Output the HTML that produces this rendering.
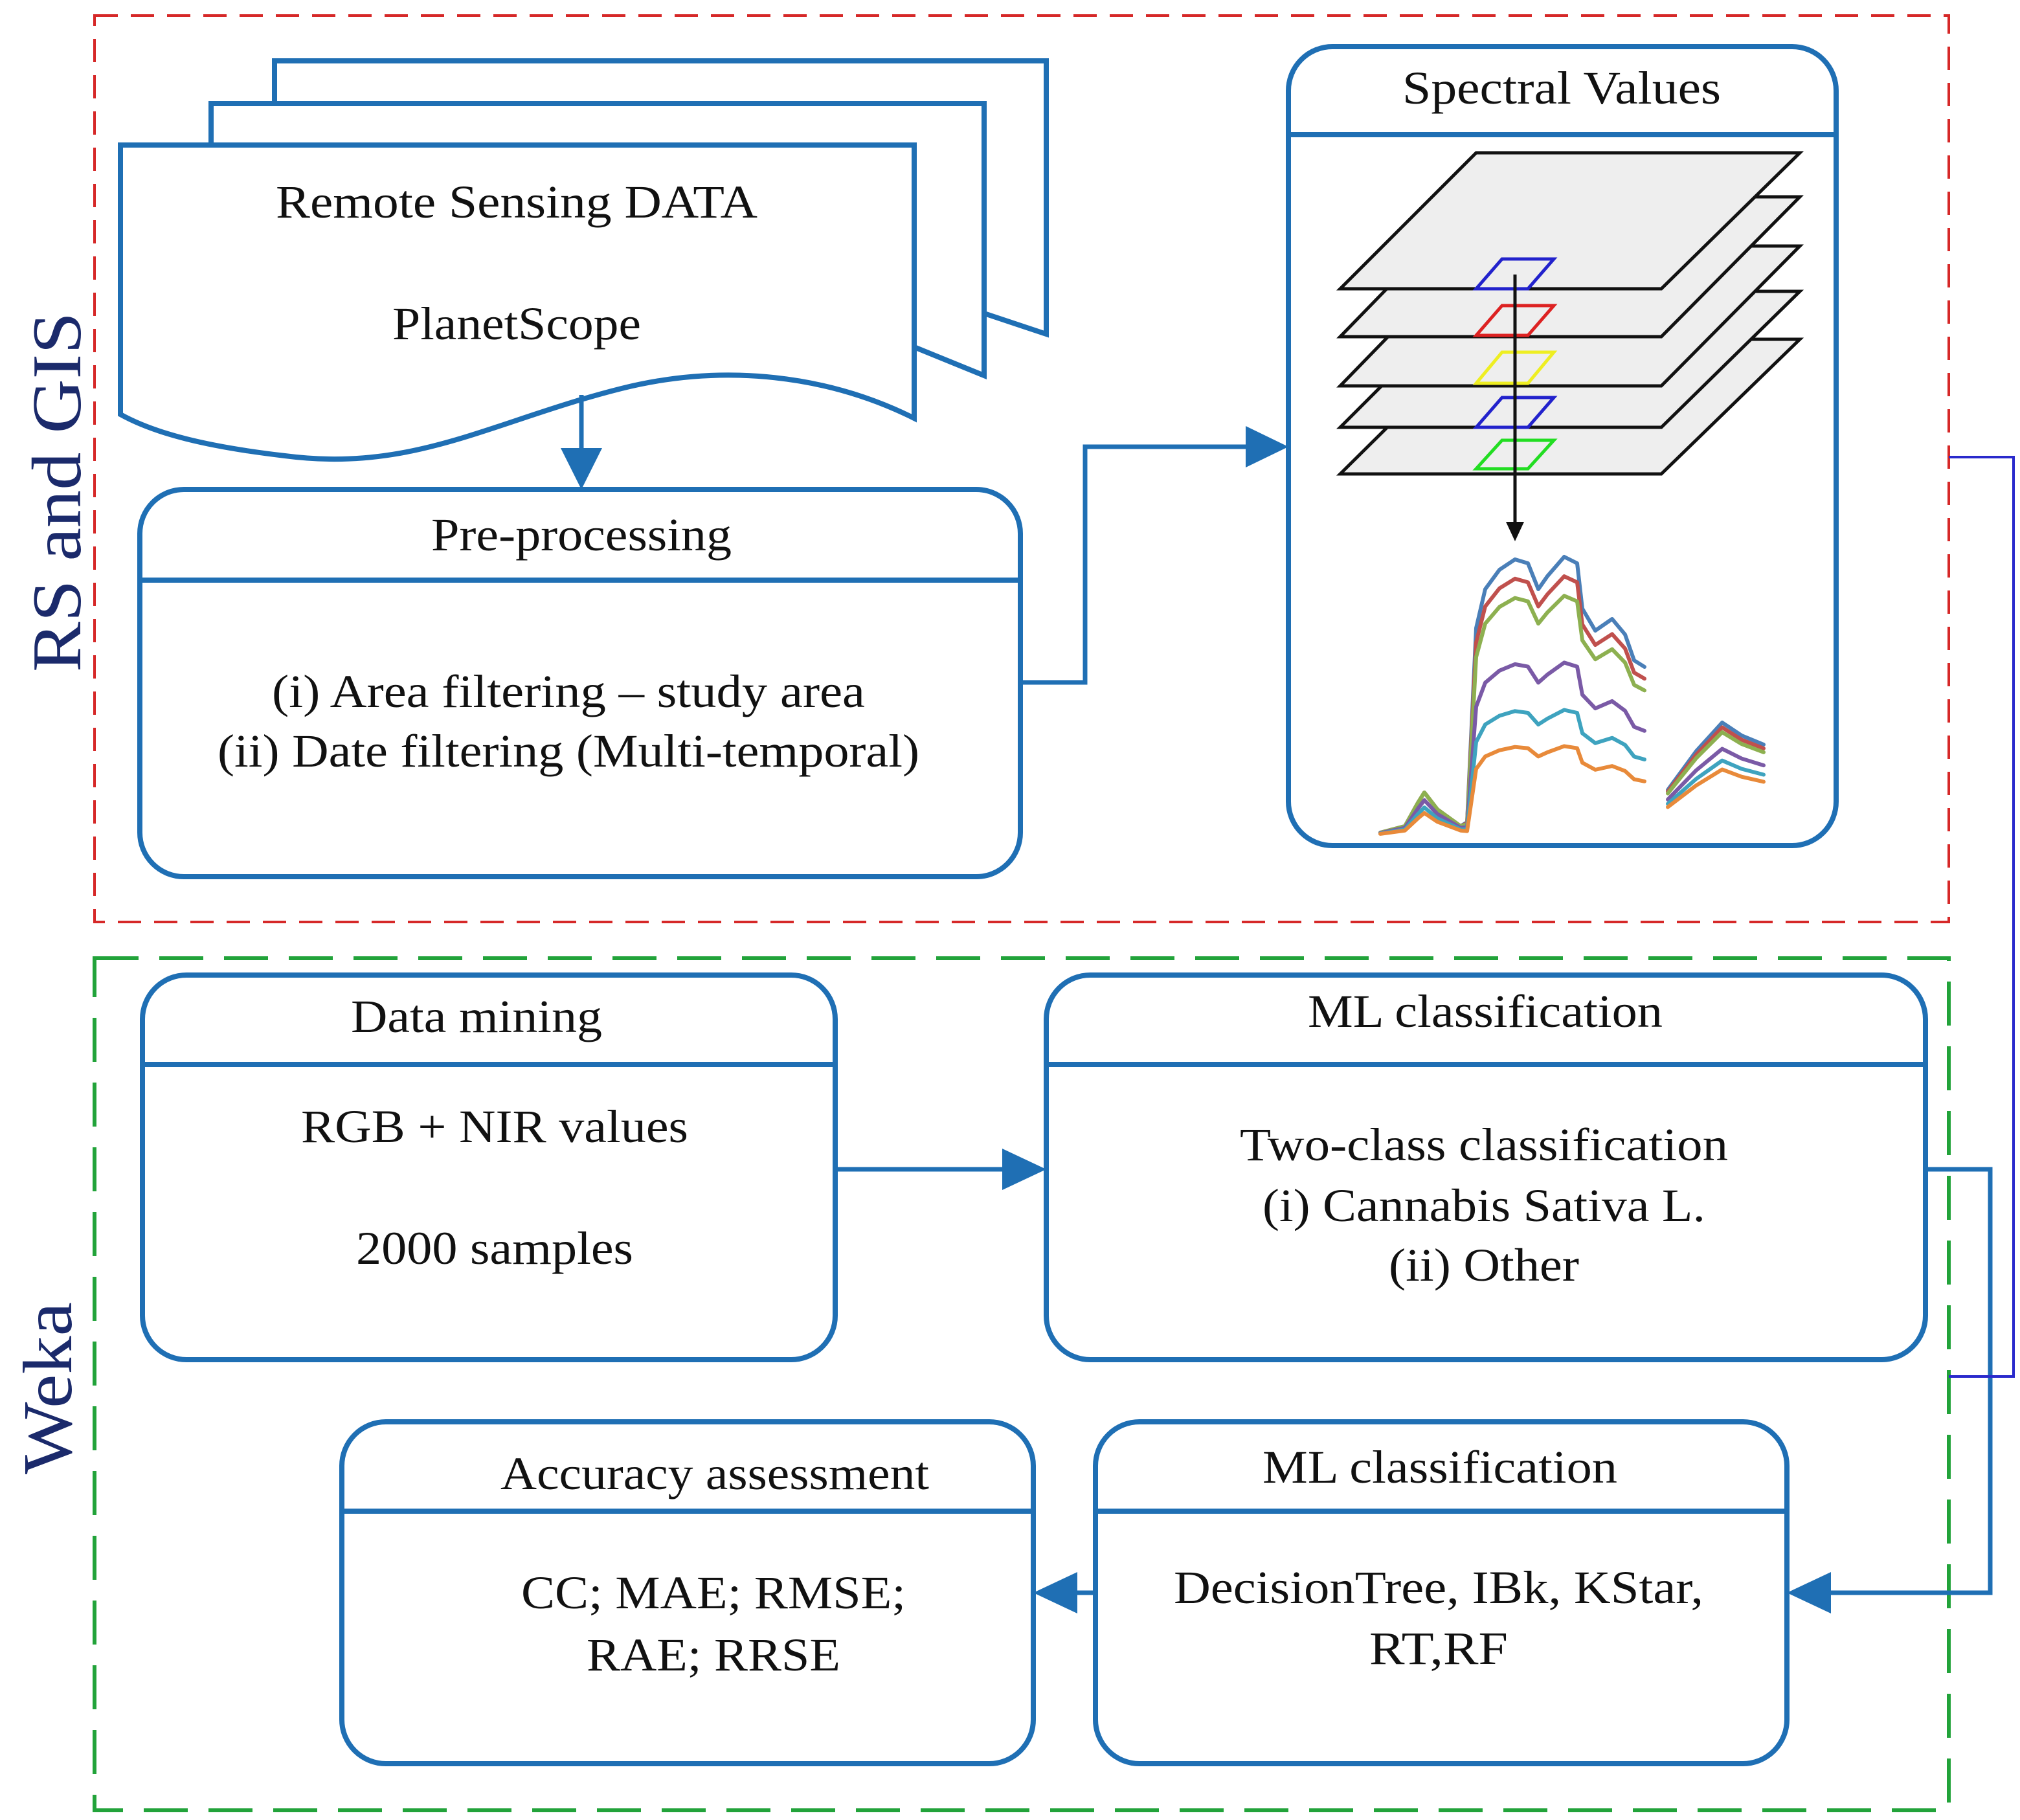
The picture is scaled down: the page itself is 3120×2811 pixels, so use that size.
<!DOCTYPE html>
<html><head><meta charset="utf-8"><style>
html,body{margin:0;padding:0;background:#fff;}
svg{display:block;}
text{font-family:"Liberation Serif",serif;fill:#111;}
</style></head><body>
<svg width="3120" height="2811" viewBox="0 0 1560 1405.5" xmlns="http://www.w3.org/2000/svg">
<rect width="1560" height="1405.5" fill="#fff"/>
<rect x="73" y="12" width="1432" height="700" fill="none" stroke="#d62828" stroke-width="2" stroke-dasharray="18,10"/>
<rect x="73" y="740" width="1432" height="658" fill="none" stroke="#22a33a" stroke-width="3" stroke-dasharray="34,16"/>
<text transform="translate(62,380) rotate(-90)" text-anchor="middle" font-size="54" style="fill:#1b2a6b" textLength="278" lengthAdjust="spacingAndGlyphs">RS and GIS</text>
<text transform="translate(55,1072) rotate(-90)" text-anchor="middle" font-size="54" style="fill:#1b2a6b" textLength="133" lengthAdjust="spacingAndGlyphs">Weka</text>

<g stroke="#1f6fb4" stroke-width="4" fill="#fff">
<path d="M212,80 L212,47 L808,47 L808,258 L760,242"/>
<path d="M163,112 L163,80 L760,80 L760,290 L706,268"/>
<path d="M93,112 L706,112 L706,323 C640,290 560,280 480,300 C380,325 320,365 220,352 C160,345 120,335 93,320 Z"/>
<rect x="108" y="378" width="680" height="299" rx="34"/>
<line x1="108" y1="448" x2="788" y2="448"/>
<rect x="995" y="36" width="423" height="617" rx="34"/>
<line x1="995" y1="104" x2="1418" y2="104"/>
<rect x="110" y="753" width="535" height="297" rx="34"/>
<line x1="110" y1="822" x2="645" y2="822"/>
<rect x="808" y="753" width="679" height="297" rx="34"/>
<line x1="808" y1="822" x2="1487" y2="822"/>
<rect x="846" y="1098" width="534" height="264" rx="34"/>
<line x1="846" y1="1167" x2="1380" y2="1167"/>
<rect x="264" y="1098" width="534" height="264" rx="34"/>
<line x1="264" y1="1167" x2="798" y2="1167"/>
</g>
<g stroke="#1f6fb4" stroke-width="3.5" fill="none">
<path d="M449,305 L449,350"/>
<path d="M788,527 L838,527 L838,345 L965,345"/>
<path d="M645,903 L778,903"/>
<path d="M1487,903 L1537,903 L1537,1230 L1410,1230"/>
<path d="M846,1230 L828,1230"/>
</g>
<g fill="#1f6fb4">
<path d="M433,346 L465,346 L449,378 Z"/>
<path d="M962,329 L962,361 L995,345 Z"/>
<path d="M774,887 L774,919 L808,903 Z"/>
<path d="M1414,1214 L1414,1246 L1380,1230 Z"/>
<path d="M832,1214 L832,1246 L798,1230 Z"/>
</g>
<path d="M1505,353 L1555,353 L1555,1063 L1505,1063" stroke="#2a2acc" stroke-width="2" fill="none"/>

<g stroke="#111" stroke-width="2.5" fill="#eeeeee">
<path d="M1035,366 L1140,262 L1390,262 L1283,366 Z"/>
<path d="M1035,330 L1140,225 L1390,225 L1283,330 Z"/>
<path d="M1035,298 L1140,190 L1390,190 L1283,298 Z"/>
<path d="M1035,260 L1140,152 L1390,152 L1283,260 Z"/>
<path d="M1035,223 L1140,118 L1390,118 L1283,223 Z"/>
</g>
<g fill="none" stroke-width="2.5">
<path d="M1140,362 L1160,340 L1200,340 L1180,362 Z" stroke="#22dd22"/>
<path d="M1140,330 L1160,307 L1200,307 L1180,330 Z" stroke="#2222cc"/>
<path d="M1140,296 L1160,272 L1200,272 L1180,296 Z" stroke="#eeee22"/>
<path d="M1140,259 L1160,236 L1200,236 L1180,259 Z" stroke="#dd2222"/>
<path d="M1140,223 L1160,200 L1200,200 L1180,223 Z" stroke="#2222cc"/>
</g>
<line x1="1170" y1="212" x2="1170" y2="405" stroke="#111" stroke-width="2.5"/>
<path d="M1163,403 L1177,403 L1170,418 Z" fill="#111"/>
<g id="curves" fill="none" stroke-width="3" stroke-linejoin="round" stroke-linecap="round"></g>

<g font-size="36">
<text x="399" y="168" text-anchor="middle" textLength="372" lengthAdjust="spacingAndGlyphs">Remote Sensing DATA</text>
<text x="399" y="262" text-anchor="middle" textLength="192" lengthAdjust="spacingAndGlyphs">PlanetScope</text>
<text x="449" y="425" text-anchor="middle" textLength="232" lengthAdjust="spacingAndGlyphs">Pre-processing</text>
<text x="439" y="546" text-anchor="middle" textLength="458" lengthAdjust="spacingAndGlyphs">(i) Area filtering – study area</text>
<text x="439" y="592" text-anchor="middle" textLength="542" lengthAdjust="spacingAndGlyphs">(ii) Date filtering (Multi-temporal)</text>
<text x="1206" y="80" text-anchor="middle" textLength="246" lengthAdjust="spacingAndGlyphs">Spectral Values</text>
<text x="368" y="797" text-anchor="middle" textLength="194" lengthAdjust="spacingAndGlyphs">Data mining</text>
<text x="382" y="882" text-anchor="middle" textLength="299" lengthAdjust="spacingAndGlyphs">RGB + NIR values</text>
<text x="382" y="976" text-anchor="middle" textLength="214" lengthAdjust="spacingAndGlyphs">2000 samples</text>
<text x="1147" y="793" text-anchor="middle" textLength="274" lengthAdjust="spacingAndGlyphs">ML classification</text>
<text x="1146" y="896" text-anchor="middle" textLength="377" lengthAdjust="spacingAndGlyphs">Two-class classification</text>
<text x="1146" y="943" text-anchor="middle" textLength="342" lengthAdjust="spacingAndGlyphs">(i) Cannabis Sativa L.</text>
<text x="1146" y="989" text-anchor="middle" textLength="147" lengthAdjust="spacingAndGlyphs">(ii) Other</text>
<text x="1112" y="1145" text-anchor="middle" textLength="274" lengthAdjust="spacingAndGlyphs">ML classification</text>
<text x="1111" y="1238" text-anchor="middle" textLength="409" lengthAdjust="spacingAndGlyphs">DecisionTree, IBk, KStar,</text>
<text x="1111" y="1285" text-anchor="middle" textLength="107" lengthAdjust="spacingAndGlyphs">RT,RF</text>
<text x="552" y="1150" text-anchor="middle" textLength="331" lengthAdjust="spacingAndGlyphs">Accuracy assessment</text>
<text x="551" y="1242" text-anchor="middle" textLength="297" lengthAdjust="spacingAndGlyphs">CC; MAE; RMSE;</text>
<text x="551" y="1290" text-anchor="middle" textLength="196" lengthAdjust="spacingAndGlyphs">RAE; RRSE</text>
</g>
</svg>
<script>
(function(){
var base=[[1066,2],[1085,7],[1095,25],[1100,33],[1110,20],[1128,7],[1133,10],[1140,160],[1147,190],[1158,205],[1170,213],[1180,210],[1188,190],[1195,200],[1208,215],[1218,210],[1222,175],[1232,158],[1245,167],[1255,155],[1262,135],[1270,130]];
var b2=[[1288,30],[1310,60],[1330,82],[1345,72],[1362,65]];
var cs=[["#4a7fb8",1],["#c0504d",0.93],["#8db050",0.86],["#7a5aa6",0.62],["#3ea3bf",0.45],["#e88a3a",0.32]];
var g=document.getElementById('curves');
cs.forEach(function(c){
 var f=c[1],d="";
 base.forEach(function(p,i){var ff=p[0]<1132?Math.min(1,f+0.2):f;d+=(i?"L":"M")+p[0]+","+(645-p[1]*ff);});
 var d2="";b2.forEach(function(p,i){d2+=(i?"L":"M")+p[0]+","+(640-p[1]*(0.35+0.65*f));});
 [d,d2].forEach(function(dd){var e=document.createElementNS("http://www.w3.org/2000/svg","path");e.setAttribute("d",dd);e.setAttribute("stroke",c[0]);g.appendChild(e);});
});
})();
</script>
</body></html>
